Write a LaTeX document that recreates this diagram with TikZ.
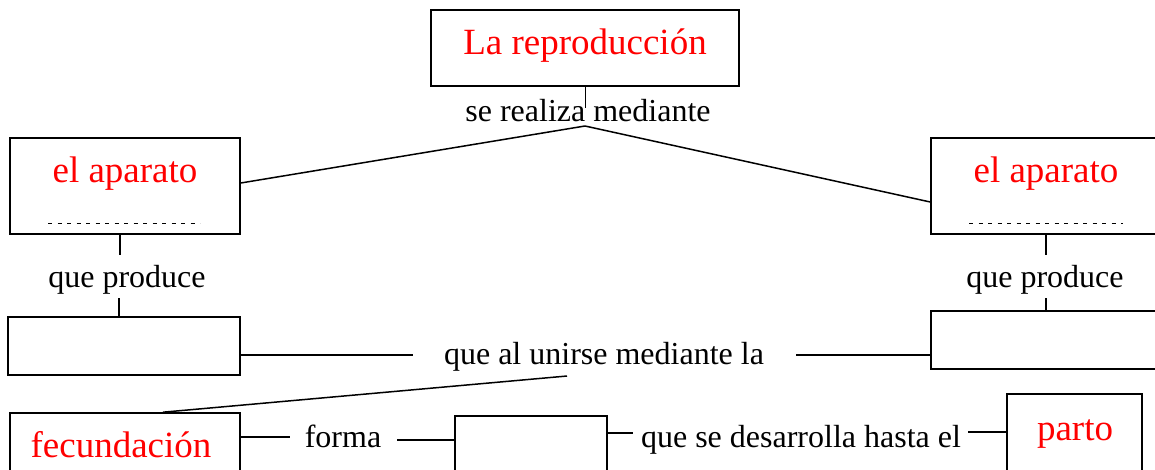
\documentclass[tikz,border=0pt]{standalone}
\usepackage{fontspec}
\setmainfont{Liberation Serif}
\begin{document}
\begin{tikzpicture}[x=1pt,y=-1pt,
  box/.style={draw,line width=1.6pt,inner sep=0pt},
  redtxt/.style={red,inner sep=0pt,anchor=base,font=\fontsize{37}{40}\selectfont},
  blktxt/.style={black,inner sep=0pt,anchor=base,font=\fontsize{32}{36}\selectfont},
  conn/.style={line width=1.5pt},
  dots/.style={line width=1pt,dash pattern=on 4pt off 5.5pt}]
\useasboundingbox (0,0) rectangle (1155,470);
\clip (0,0) rectangle (1155,470);
% boxes
\node[box,minimum width=308pt,minimum height=76pt] (top) at (585,48) {};
\node[box,minimum width=230pt,minimum height=96pt] (lb1) at (125,186) {};
\node[box,minimum width=230pt,minimum height=96pt] (rb1) at (1046,186) {};
\node[box,minimum width=232pt,minimum height=58pt] (lb2) at (124,346) {};
\node[box,minimum width=230pt,minimum height=58pt] (rb2) at (1046,340) {};
\node[box,minimum width=230pt,minimum height=100pt] (fec) at (125,463) {};
\node[box,minimum width=152pt,minimum height=100pt] (mid) at (531,466) {};
\node[box,minimum width=135pt,minimum height=112pt] (parto) at (1074.5,450) {};
% texts
\node[redtxt] (toptxt) at (585,55) {La reproducción};
\node[blktxt] (realiza) at (588,122) {se realiza mediante};
\node[redtxt] (lb1txt) at (125,183) {el aparato};
\node[redtxt] (rb1txt) at (1046,183) {el aparato};
\node[blktxt] (qp1) at (127,287) {que produce};
\node[blktxt] (qp2) at (1045,287) {que produce};
\node[blktxt] (union) at (604,364) {que al unirse mediante la};
\node[redtxt] (fectxt) at (121,457) {fecundación};
\node[blktxt] (forma) at (343,447) {forma};
\node[blktxt] (desarr) at (801,447) {que se desarrolla hasta el};
\node[redtxt] (partotxt) at (1075,440) {parto};
% dotted blanks
\coordinate (d1a) at (48,224); \coordinate (d1b) at (200,224);
\coordinate (d2a) at (969,224); \coordinate (d2b) at (1123,224);
\draw[dots] (d1a) -- (d1b);
\draw[dots] (d2a) -- (d2b);
% connectors
\coordinate (stem) at (585,108);
\coordinate (apex) at (585,126);
\draw[line width=1pt] (top.south) -- (stem);
\draw[conn] (apex) -- ([yshift=3pt]lb1.east);
\draw[conn] (apex) -- ([yshift=-16pt]rb1.west);
\draw[conn,shorten >=10pt] ([xshift=-5pt]lb1.south) -- ([xshift=-5pt]lb1.south |- qp1.north);
\draw[conn,shorten >=4pt] ([xshift=-5pt]lb2.north) -- ([xshift=-5pt]lb2.north |- qp1.south);
\draw[conn,shorten >=10pt] (rb1.south) -- (rb1.south |- qp2.north);
\draw[conn,shorten >=4pt] (rb2.north) -- (rb2.north |- qp2.south);
\draw[conn,shorten >=31pt] ([yshift=-9pt]lb2.east) -- ([yshift=-9pt]lb2.east -| union.west);
\draw[conn,shorten >=32pt] ([yshift=-15pt]rb2.west) -- ([yshift=-15pt]rb2.west -| union.east);
\draw[conn] ([xshift=-37pt,yshift=-5pt]union.south) -- ([xshift=38pt]fec.north);
\draw[conn,shorten >=15pt] ([yshift=-25pt]fec.north east) -- ([yshift=-25pt]fec.north east -| forma.west);
\draw[conn,shorten >=16pt] ([yshift=-25pt]mid.north west) -- ([yshift=-25pt]mid.north west -| forma.east);
\draw[conn,shorten >=8pt] ([yshift=-18pt]mid.north east) -- ([yshift=-18pt]mid.north east -| desarr.west);
\draw[conn,shorten >=7pt] ([yshift=-39pt]parto.north west) -- ([yshift=-39pt]parto.north west -| desarr.east);
\end{tikzpicture}
\end{document}
